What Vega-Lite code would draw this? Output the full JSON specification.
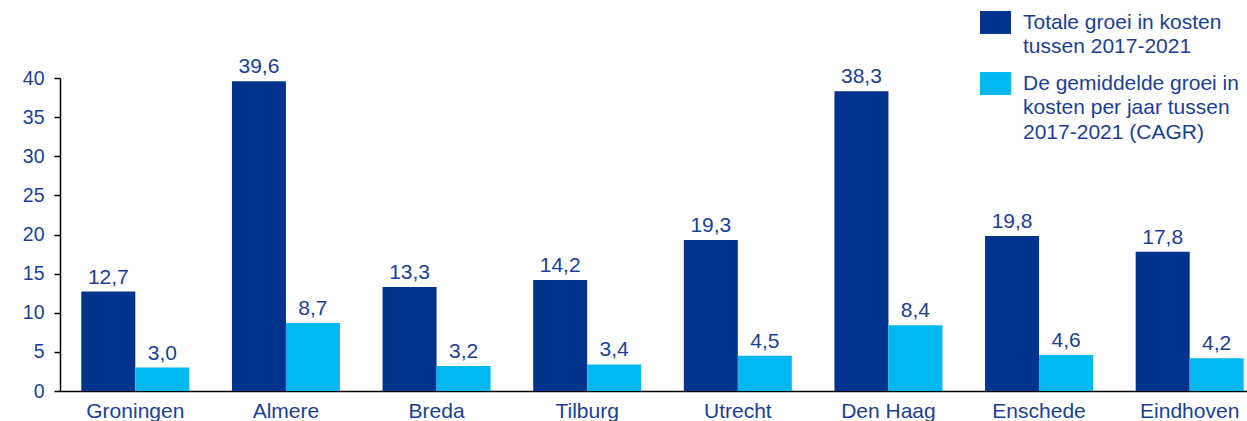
{
  "$schema": "https://vega.github.io/schema/vega-lite/v6.json",
  "autosize": {"type": "none"},
  "width": 1187,
  "height": 313,
  "padding": {"left": 60, "top": 78, "right": 0, "bottom": 30},
  "config": {
    "locale": {"number": {"decimal": ",", "thousands": ".", "grouping": [3], "currency": ["€", ""]}},
    "view": {"stroke": null},
    "font": "Liberation Sans",
    "style": {"guide-label": {"lineHeight": 24.5}}
  },
  "data": {
    "values": [
      {"stad": "Groningen", "reeks": "Totale groei in kosten|\u00a0tussen 2017-2021", "waarde": 12.7},
      {"stad": "Groningen", "reeks": "De gemiddelde groei in|kosten per jaar tussen|2017-2021 (CAGR)", "waarde": 3.0},
      {"stad": "Almere", "reeks": "Totale groei in kosten|\u00a0tussen 2017-2021", "waarde": 39.6},
      {"stad": "Almere", "reeks": "De gemiddelde groei in|kosten per jaar tussen|2017-2021 (CAGR)", "waarde": 8.7},
      {"stad": "Breda", "reeks": "Totale groei in kosten|\u00a0tussen 2017-2021", "waarde": 13.3},
      {"stad": "Breda", "reeks": "De gemiddelde groei in|kosten per jaar tussen|2017-2021 (CAGR)", "waarde": 3.2},
      {"stad": "Tilburg", "reeks": "Totale groei in kosten|\u00a0tussen 2017-2021", "waarde": 14.2},
      {"stad": "Tilburg", "reeks": "De gemiddelde groei in|kosten per jaar tussen|2017-2021 (CAGR)", "waarde": 3.4},
      {"stad": "Utrecht", "reeks": "Totale groei in kosten|\u00a0tussen 2017-2021", "waarde": 19.3},
      {"stad": "Utrecht", "reeks": "De gemiddelde groei in|kosten per jaar tussen|2017-2021 (CAGR)", "waarde": 4.5},
      {"stad": "Den Haag", "reeks": "Totale groei in kosten|\u00a0tussen 2017-2021", "waarde": 38.3},
      {"stad": "Den Haag", "reeks": "De gemiddelde groei in|kosten per jaar tussen|2017-2021 (CAGR)", "waarde": 8.4},
      {"stad": "Enschede", "reeks": "Totale groei in kosten|\u00a0tussen 2017-2021", "waarde": 19.8},
      {"stad": "Enschede", "reeks": "De gemiddelde groei in|kosten per jaar tussen|2017-2021 (CAGR)", "waarde": 4.6},
      {"stad": "Eindhoven", "reeks": "Totale groei in kosten|\u00a0tussen 2017-2021", "waarde": 17.8},
      {"stad": "Eindhoven", "reeks": "De gemiddelde groei in|kosten per jaar tussen|2017-2021 (CAGR)", "waarde": 4.2}
    ]
  },
  "encoding": {
    "x": {
      "field": "stad",
      "type": "nominal",
      "sort": ["Groningen", "Almere", "Breda", "Tilburg", "Utrecht", "Den Haag", "Enschede", "Eindhoven"],
      "scale": {"range": [0, 1205], "paddingInner": 0.283, "paddingOuter": 0.1415},
      "axis": {
        "title": null,
        "labelAngle": 0,
        "ticks": false,
        "domainColor": "#000000",
        "domainWidth": 1.5,
        "labelColor": "#1B3F94",
        "labelFontSize": 21,
        "labelPadding": 9,
        "grid": false
      }
    },
    "xOffset": {
      "field": "reeks",
      "sort": ["Totale groei in kosten|\u00a0tussen 2017-2021", "De gemiddelde groei in|kosten per jaar tussen|2017-2021 (CAGR)"]
    },
    "y": {
      "field": "waarde",
      "type": "quantitative",
      "scale": {"domain": [0, 40]},
      "axis": {
        "title": null,
        "values": [0, 5, 10, 15, 20, 25, 30, 35, 40],
        "grid": false,
        "domainColor": "#000000",
        "domainWidth": 1.5,
        "tickColor": "#000000",
        "tickSize": 6,
        "tickWidth": 1.5,
        "labelColor": "#1B3F94",
        "labelFontSize": 19.5,
        "labelPadding": 10
      }
    }
  },
  "layer": [
    {
      "mark": {"type": "bar"},
      "encoding": {
        "color": {
          "field": "reeks",
          "type": "nominal",
          "sort": ["Totale groei in kosten|\u00a0tussen 2017-2021", "De gemiddelde groei in|kosten per jaar tussen|2017-2021 (CAGR)"],
          "scale": {"range": ["#00338D", "#00B8F1"]},
          "legend": {
            "title": null,
            "orient": "none",
            "legendX": 920,
            "legendY": -71,
            "padding": 0,
            "symbolType": "M-1,-0.74H1V0.74H-1Z",
            "symbolSize": 960,
            "symbolOpacity": 1,
            "symbolStrokeWidth": 0,
            "labelFontSize": 21,
            "labelColor": "#1B3F94",
            "labelOffset": 12,
            "labelLimit": 400,
            "labelBaseline": "middle",
            "labelExpr": "split(datum.label, '|')",
            "rowPadding": 11
          }
        }
      }
    },
    {
      "mark": {"type": "text", "dy": -8, "baseline": "alphabetic", "fontSize": 21, "color": "#1B3F94"},
      "encoding": {
        "text": {"field": "waarde", "type": "quantitative", "format": ".1f"}
      }
    }
  ]
}
